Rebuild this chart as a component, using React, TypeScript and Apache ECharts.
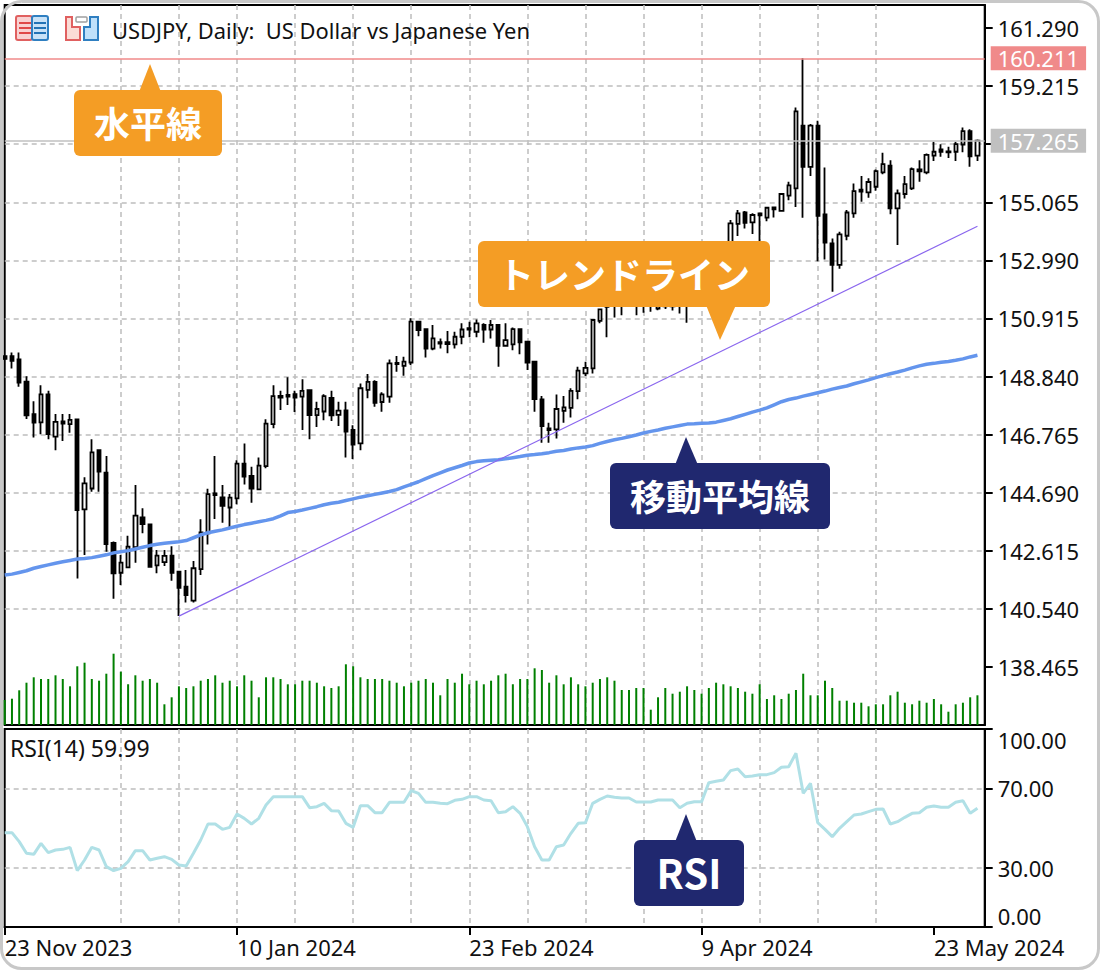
import React, { useEffect, useRef } from "react";
import * as echarts from "echarts";

const opens = [
  149.57,149.57,149.45,148.66,147.50,147.20,148.20,146.69,147.24,147.14,
  147.31,144.09,144.84,146.21,145.41,142.90,141.83,142.02,142.74,143.81,
  143.56,142.09,142.21,142.44,141.87,141.33,140.83,141.96,143.24,144.66,
  144.52,144.16,144.49,145.73,145.29,144.81,145.64,147.14,148.09,148.18,
  148.21,148.12,148.35,147.46,147.59,148.08,147.47,147.63,146.93,146.45,
  148.36,148.65,147.93,148.12,149.33,149.22,149.34,150.80,150.53,149.84,
  150.02,150.07,149.99,150.26,150.52,150.44,150.68,150.52,150.68,149.94,
  149.99,150.53,150.09,149.37,148.02,146.99,146.95,147.61,147.72,148.32,
  148.95,149.13,150.83,151.33,151.36,151.55,151.42,151.50,151.45,151.40,
  151.27,151.45,151.35,151.50,151.40,151.70,152.10,152.30,152.10,152.70,
  153.36,154.29,154.70,154.35,154.67,154.52,154.88,154.76,155.30,155.56,
  157.80,156.33,157.80,154.63,153.60,152.83,153.87,154.67,155.52,155.42,
  155.62,156.13,156.37,154.85,155.36,155.56,156.24,156.13,156.73,156.95,
  156.85,156.87,157.13,157.61,156.73,
];
const closes = [
  149.47,149.40,148.62,147.45,147.19,148.20,146.78,147.22,147.16,147.29,
  144.07,145.02,146.13,145.44,142.85,141.81,142.19,142.76,143.87,143.57,
  142.04,142.44,142.43,141.83,141.29,141.03,141.99,143.27,144.64,144.60,
  144.22,144.51,145.73,145.26,144.84,145.66,147.16,148.14,148.15,148.12,
  148.09,148.33,147.46,147.68,148.14,147.45,147.62,146.87,146.41,148.42,
  148.65,147.90,148.20,149.31,149.28,149.37,150.80,150.50,149.84,150.20,
  150.07,150.00,150.26,150.52,150.57,150.74,150.52,150.68,149.94,150.14,
  150.53,150.06,149.34,148.03,147.07,146.93,147.68,147.74,148.33,149.05,
  149.15,150.86,151.24,151.69,151.60,151.42,151.55,151.42,151.48,151.50,
  151.45,151.35,151.50,151.40,151.70,152.10,152.30,152.10,152.70,153.00,
  154.31,154.67,154.33,154.61,154.60,154.87,154.81,155.36,155.67,158.31,
  156.33,157.80,154.58,153.62,152.83,153.92,154.70,155.46,155.45,155.79,
  156.18,156.43,154.85,155.38,155.71,156.25,156.17,156.76,156.87,156.87,
  156.88,157.14,157.61,156.71,157.265,
];
const lows = [
  149.43,149.13,148.47,147.32,146.66,146.78,146.60,146.21,146.54,146.83,
  141.62,142.46,144.72,144.72,142.58,140.90,141.39,142.02,142.19,143.24,
  142.02,141.81,142.07,141.54,140.28,140.77,140.77,141.75,142.84,143.75,
  143.62,143.41,144.28,144.98,144.33,144.81,145.56,146.99,147.64,147.82,
  147.57,146.93,146.60,147.04,147.28,147.25,147.07,145.95,145.89,146.21,
  148.06,147.76,147.58,147.90,149.01,148.87,149.25,150.28,149.52,149.78,
  149.84,149.67,149.84,149.99,150.24,150.24,150.05,150.20,149.19,149.90,
  149.78,149.64,149.07,147.58,146.47,146.47,146.63,147.19,147.38,148.03,
  148.86,148.95,150.74,150.24,150.95,151.03,151.33,151.03,151.12,151.15,
  151.21,151.25,151.20,151.09,150.76,151.55,151.95,151.95,151.95,152.55,
  153.20,153.86,154.13,153.93,153.36,154.39,154.52,154.73,155.14,154.90,
  154.51,156.00,152.96,153.02,151.87,152.69,153.71,154.51,155.08,155.23,
  155.48,156.07,154.64,153.54,155.20,155.50,155.80,156.07,156.54,156.69,
  156.65,156.54,156.85,156.33,156.54,
];
const highs = [
  149.57,149.70,149.70,148.85,147.96,148.53,148.33,147.50,147.50,147.50,
  147.31,145.24,146.60,146.21,146.00,142.95,142.46,143.15,144.96,144.13,
  143.59,142.64,142.64,142.78,141.87,141.93,142.25,143.74,144.83,146.00,
  144.96,144.64,145.85,146.45,145.62,145.95,147.31,148.53,148.33,148.81,
  148.33,148.74,148.38,147.94,148.21,148.33,147.94,147.94,147.10,148.59,
  148.93,148.71,148.28,149.45,149.57,149.55,150.92,150.80,150.56,150.68,
  150.20,150.47,150.44,150.74,150.80,150.88,150.74,150.86,150.68,150.74,
  150.59,150.53,150.09,149.37,148.14,147.19,148.20,148.14,148.42,149.19,
  149.37,150.88,151.27,151.93,151.95,151.85,151.80,151.80,151.75,151.80,
  151.75,151.70,151.75,151.80,152.00,152.40,152.60,152.60,152.90,153.40,
  154.43,154.79,154.75,154.67,154.69,154.90,154.88,155.40,155.80,158.45,
  160.21,157.86,157.98,156.31,153.77,154.01,154.79,155.74,156.00,155.92,
  156.24,156.83,156.57,155.52,156.00,156.31,156.57,156.81,157.23,157.14,
  157.05,157.23,157.74,157.67,157.31,
];
const movingAverage = [
  141.75,141.78,141.84,141.90,141.99,142.05,142.11,142.17,142.22,142.27,
  142.32,142.34,142.37,142.42,142.47,142.54,142.58,142.62,142.68,142.74,
  142.80,142.85,142.88,142.91,142.94,142.98,143.08,143.18,143.26,143.31,
  143.36,143.43,143.49,143.55,143.60,143.65,143.70,143.76,143.86,143.98,
  144.02,144.07,144.13,144.19,144.26,144.31,144.35,144.41,144.47,144.53,
  144.58,144.63,144.68,144.73,144.80,144.90,144.99,145.08,145.19,145.30,
  145.40,145.50,145.58,145.66,145.75,145.80,145.83,145.85,145.87,145.90,
  145.94,145.98,146.03,146.05,146.08,146.12,146.17,146.20,146.25,146.29,
  146.32,146.37,146.45,146.52,146.58,146.63,146.69,146.75,146.82,146.88,
  146.93,146.99,147.04,147.09,147.14,147.15,147.17,147.18,147.21,147.27,
  147.33,147.41,147.49,147.57,147.64,147.72,147.83,147.94,148.02,148.07,
  148.14,148.20,148.26,148.32,148.39,148.45,148.50,148.58,148.65,148.72,
  148.80,148.87,148.94,149.00,149.07,149.15,149.22,149.28,149.31,149.35,
  149.38,149.42,149.47,149.54,149.60,
];
const tickVolume = [
  25,26.3,34.7,42.3,47.7,46,46,49.7,46,38.7,
  58.7,62.3,46,44.3,51.3,71.3,53.3,40.7,49.7,44.3,
  46,42.3,20.7,27.7,38.7,37,38.7,44.3,46,49.7,
  42.3,44.3,38.7,49.7,44.3,27.7,47.7,47.7,46,40.7,
  40.7,44.3,44.3,42.3,38.7,37,38.7,60.7,58.7,47.7,
  46,46,46,44.3,42.3,38.7,42.3,44.3,46,42.3,
  29.7,46,42.3,51.3,40.7,44.3,40.7,44.3,49.7,
  51.3,40.7,46,46,56.7,55,42.3,49.7,40.7,47.7,40.7,
  38.7,42.3,46,47.7,44.3,35,35,37,37,15.3,
  27.7,37,31.3,33.3,38.7,35,31.3,37,42.3,40.7,
  38.7,37,33.3,31.3,40.7,26,29.7,26,31.3,35,
  51.3,29.7,29.7,44.3,37,24.3,24.3,22.3,22.3,18.7,
  20.7,20.7,29.7,33.3,22.3,20.7,24.3,22.3,26,20.7,
  13.3,20.7,22.3,27.7,29.7,
];
const rsiValues = [
  47.64,47.64,43.10,37.21,36.70,42.26,37.54,38.89,39.22,40.24,
  28.45,33.84,40.24,38.89,30.47,28.45,29.63,33.00,38.55,38.55,
  33.84,34.68,35.52,34.18,31.31,30.81,37.21,43.94,52.02,52.02,
  49.33,50.34,57.07,54.88,52.02,54.88,61.62,65.83,65.83,65.83,
  65.83,65.83,60.27,60.78,62.46,58.76,58.59,52.36,50.34,61.28,
  61.28,57.74,57.74,62.97,62.97,62.97,68.86,67.51,62.97,62.97,
  62.46,62.29,63.97,64.48,65.83,65.83,64.14,63.80,57.74,58.25,
  60.78,57.41,50.68,40.57,33.84,33.84,40.57,41.42,47.31,52.36,
  52.70,62.46,64.48,66.16,65.49,65.15,65.15,63.13,63.13,63.13,
  64.14,64.14,64.14,60.27,62.46,63.30,63.30,72.90,73.57,74.24,
  78.96,79.80,75.93,76.26,76.94,76.94,77.95,80.64,80.98,87.71,
  67.51,72.56,52.70,49.33,45.62,49.83,53.20,56.57,57.07,58.25,
  59.43,59.60,52.02,53.20,55.39,57.41,57.74,60.44,61.11,60.44,
  60.44,62.97,63.80,57.41,59.99,
];
const trendLinePoints = [[24, 140.28], [134, 154.21]];
const horizontalLine = 160.211;
const bidLine = 157.265;
const priceTicks = [138.465, 140.54, 142.615, 144.69, 146.765, 148.84, 150.915, 152.99, 155.065, 157.14, 159.215, 161.29];
const priceLabels = [138.465, 140.54, 142.615, 144.69, 146.765, 148.84, 150.915, 152.99, 155.065, 159.215, 161.29];
const rsiTicks = [0, 30, 70, 100];
const xTickLabels: Record<number, string> = {
  0: "23 Nov 2023",
  32: "10 Jan 2024",
  64: "23 Feb 2024",
  96: "9 Apr 2024",
  128: "23 May 2024",
};
const categories = Array.from({ length: opens.length + 1 }, (_, i) => xTickLabels[i] ?? `bar ${i}`);

const FONT = "'Noto Sans', sans-serif";
const JP = "'Noto Sans CJK JP', sans-serif";
const GRID = "#bdbdbd";
const ORANGE = "#f49d25";
const NAVY = "#20286f";

const callout = (
  x: number, y: number, w: number, h: number, fill: string,
  tri: number[][], text: string, size: number,
) => [
  { type: "polygon", z: 100, shape: { points: tri }, style: { fill } },
  { type: "rect", z: 100, shape: { x, y, width: w, height: h, r: 6 }, style: { fill } },
  {
    type: "text", z: 101, x: x + w / 2, y: y + h / 2 - 1,
    style: { text, fill: "#fff", font: `700 ${size}px ${JP}`, textAlign: "center", textVerticalAlign: "middle" },
  },
];

const icons = [
  { type: "rect", z: 50, shape: { x: 16, y: 16, width: 16, height: 24, r: 2 }, style: { fill: "#f9d2d2", stroke: "#e06060", lineWidth: 2 } },
  { type: "rect", z: 50, shape: { x: 32, y: 16, width: 16, height: 24, r: 2 }, style: { fill: "#c9e2f7", stroke: "#2f7fc1", lineWidth: 2 } },
  ...[23, 28, 33].flatMap((y) => [
    { type: "line", z: 51, shape: { x1: 19, y1: y, x2: 31, y2: y }, style: { stroke: "#e04848", lineWidth: 2 } },
    { type: "line", z: 51, shape: { x1: 34, y1: y, x2: 46, y2: y }, style: { stroke: "#2272b5", lineWidth: 2 } },
  ]),
  { type: "polygon", z: 50, shape: { points: [[66, 17], [72, 17], [72, 27], [80, 27], [80, 40], [66, 40]] }, style: { fill: "#fbdcd6", stroke: "#e06060", lineWidth: 2 } },
  { type: "polygon", z: 50, shape: { points: [[84, 27], [90, 27], [90, 17], [98, 17], [98, 40], [84, 40]] }, style: { fill: "#bfe0fa", stroke: "#2f7fc1", lineWidth: 2 } },
  { type: "rect", z: 50, shape: { x: 76, y: 17, width: 11, height: 5, r: 1 }, style: { fill: "#fff", stroke: "#a0a0a0", lineWidth: 1.5 } },
];

const left = 4.7;
const chartWidth = 980;

export default function App() {
  const ref = useRef<HTMLDivElement>(null);
  useEffect(() => {
    const chart = echarts.init(ref.current!, undefined, { renderer: "svg" });
    const gridLine = { show: true, showMinLine: false, showMaxLine: false, lineStyle: { color: GRID, type: [5, 4] as number[], width: 1.5 } };
    const splitX = { ...gridLine, interval: (i: number) => i > 0 && i % 8 === 0 };
    const levelLabel = (value: number, color: string) => ({
      show: true, position: "end", distance: 6, formatter: value.toFixed(3),
      color: "#fff", backgroundColor: color, padding: [1, 7], fontSize: 22, fontFamily: FONT,
    });
    chart.setOption({
      animation: false,
      backgroundColor: "#fff",
      textStyle: { fontFamily: FONT },
      grid: [
        { left, top: 5, width: chartWidth, height: 720, show: true, borderColor: "#000", borderWidth: 2, backgroundColor: "#fff" },
        { left, top: 729, width: chartWidth, height: 198, show: true, borderColor: "#000", borderWidth: 2, backgroundColor: "#fff" },
      ],
      xAxis: [
        {
          type: "category", gridIndex: 0, data: categories, boundaryGap: false,
          axisLine: { show: false }, axisTick: { show: false }, axisLabel: { show: false },
          splitLine: splitX,
        },
        {
          type: "category", gridIndex: 1, data: categories, boundaryGap: false,
          axisLine: { lineStyle: { color: "#000", width: 2 } },
          axisTick: { show: true, length: 8, interval: (i: number) => i in xTickLabels, lineStyle: { color: "#000", width: 2 } },
          axisLabel: {
            interval: (i: number) => i in xTickLabels,
            formatter: (_: string, i: number) => xTickLabels[i] ?? "",
            align: "left", margin: 9, color: "#111", fontSize: 22, fontFamily: FONT,
          },
          splitLine: splitX,
        },
      ],
      yAxis: [
        {
          type: "value", gridIndex: 0, position: "right", min: 136.39, max: 162.113,
          axisLine: { show: true, lineStyle: { color: "#000", width: 2 } },
          axisTick: { show: true, length: 8, customValues: priceTicks, lineStyle: { color: "#000", width: 2 } },
          axisLabel: {
            customValues: priceLabels, margin: 13, color: "#111", fontSize: 22, fontFamily: FONT,
            formatter: (v: number) => v.toFixed(3),
          },
          splitLine: gridLine,
        },
        {
          type: "value", gridIndex: 0, min: 0, max: 720, show: false, splitLine: { show: false },
        },
        {
          type: "value", gridIndex: 1, position: "right", min: 0, max: 100,
          axisLine: { show: true, lineStyle: { color: "#000", width: 2 } },
          axisTick: { show: true, length: 8, customValues: rsiTicks, lineStyle: { color: "#000", width: 2 } },
          axisLabel: {
            customValues: rsiTicks, margin: 13, color: "#111", fontSize: 22, fontFamily: FONT,
            verticalAlignMinLabel: "bottom", verticalAlignMaxLabel: "top",
            formatter: (v: number) => v.toFixed(2),
          },
          splitLine: gridLine,
        },
      ],
      series: [
        {
          name: "Levels", type: "line", xAxisIndex: 0, yAxisIndex: 0, data: [], clip: false, silent: true,
          markLine: {
            silent: true, symbol: "none", animation: false,
            data: [
              { yAxis: horizontalLine, lineStyle: { color: "#f08a8a", width: 1.5, type: "solid" }, label: levelLabel(horizontalLine, "#f08a8a") },
              { yAxis: bidLine, lineStyle: { color: "#c0c0c0", width: 1.5, type: "solid" }, label: levelLabel(bidLine, "#c0c0c0") },
            ],
          },
        },
        {
          name: "Volume", type: "bar", xAxisIndex: 0, yAxisIndex: 1, data: tickVolume, barWidth: 2,
          itemStyle: { color: "#008000" }, silent: true,
        },
        {
          name: "USDJPY", type: "candlestick", xAxisIndex: 0, yAxisIndex: 0,
          data: opens.map((o, i) => [o, closes[i], lows[i], highs[i]]),
          barWidth: 3.8, silent: true,
          itemStyle: { color: "#fff", color0: "#000", borderColor: "#000", borderColor0: "#000", borderWidth: 1.8 },
        },
        {
          name: "Moving Average", type: "line", xAxisIndex: 0, yAxisIndex: 0, data: movingAverage,
          symbol: "none", silent: true, lineStyle: { color: "#6495ed", width: 3.5 },
        },
        {
          name: "Trend Line", type: "line", xAxisIndex: 0, yAxisIndex: 0, data: trendLinePoints,
          symbol: "none", silent: true, lineStyle: { color: "#8a66ee", width: 1.2 },
        },
        {
          name: "RSI", type: "line", xAxisIndex: 1, yAxisIndex: 2, data: rsiValues,
          symbol: "none", silent: true, lineStyle: { color: "#b0e0e6", width: 3 },
        },
      ],
      graphic: [
        { type: "rect", z: 200, silent: true, shape: { x: 1.5, y: 1.5, width: 1097, height: 967, r: 20 }, style: { fill: "none", stroke: "#c8c8c8", lineWidth: 3 } },
        ...icons,
        { type: "text", z: 50, x: 112, y: 30, style: { text: "USDJPY, Daily:  US Dollar vs Japanese Yen", fill: "#111", font: `21.9px ${FONT}`, textVerticalAlign: "middle" } },
        { type: "text", z: 50, x: 10, y: 748, style: { text: "RSI(14) 59.99", fill: "#111", font: `23px ${FONT}`, textVerticalAlign: "middle" } },
        ...callout(74, 90, 148, 66, ORANGE, [[150, 64], [139, 92], [161, 92]], "水平線", 36),
        ...callout(478, 241, 292, 66, ORANGE, [[720, 340], [706, 305], [736, 305]], "トレンドライン", 36),
        ...callout(610, 463, 220, 66, NAVY, [[686, 437], [675, 465], [698, 465]], "移動平均線", 36),
        ...callout(634, 840, 110, 66, NAVY, [[686, 814], [675, 842], [697, 842]], "RSI", 40),
      ],
    });
    return () => chart.dispose();
  }, []);
  return <div ref={ref} style={{ position: "absolute", left: 0, top: 0, width: 1100, height: 970 }} />;
}
